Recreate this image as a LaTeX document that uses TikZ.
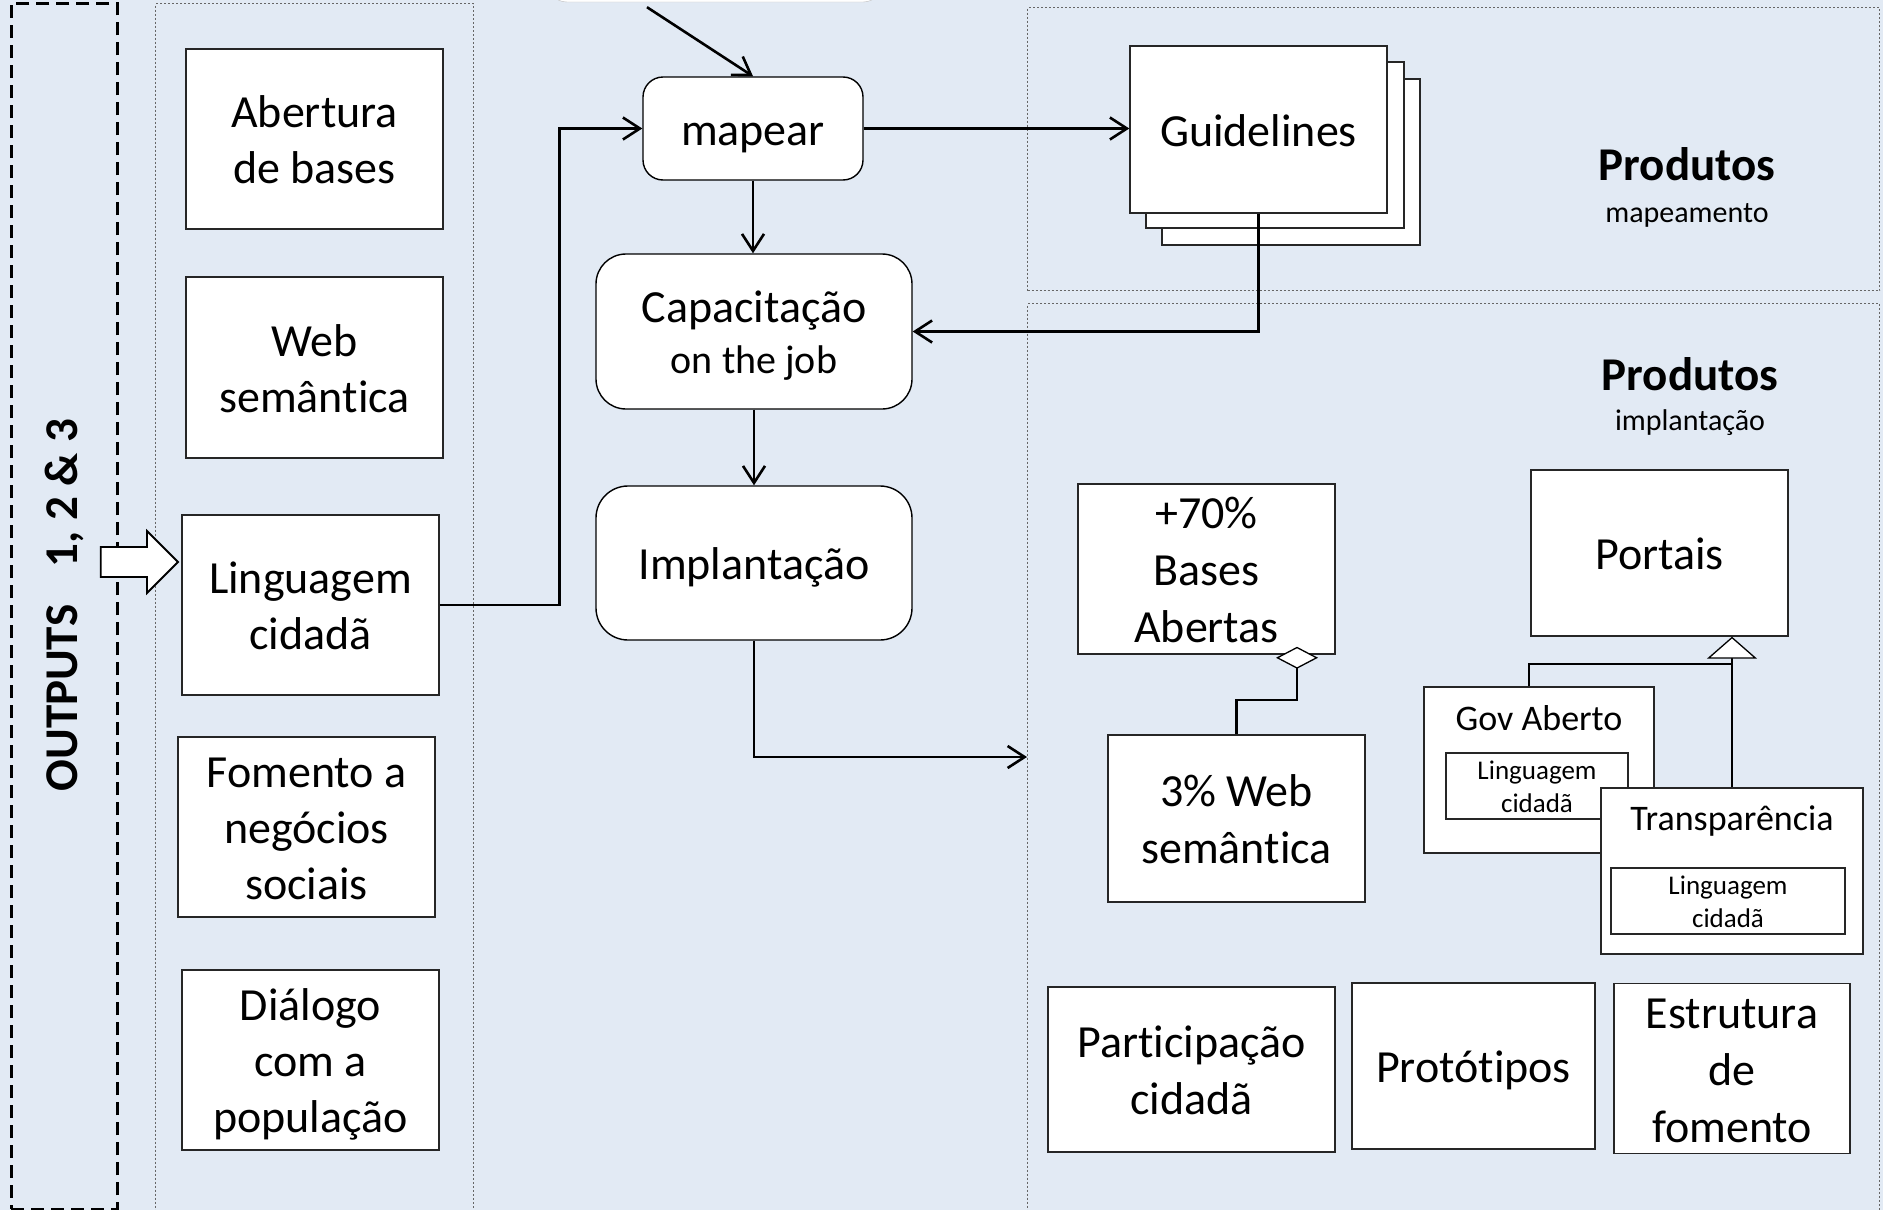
\documentclass[tikz,border=0pt]{standalone}
\usepackage{fontspec}
\setmainfont{Carlito}[Ligatures=NoCommon]
\usetikzlibrary{arrows.meta,shapes.geometric}
\definecolor{bgblue}{RGB}{226,234,244}
\newcommand\fsz[2]{\fontsize{#1}{#2}\selectfont}
\newcommand\pstrut{\rule[-0.25em]{0pt}{1.22em}}
\begin{document}
\begin{tikzpicture}[x=1pt,y=-1pt,
  box/.style={draw=black!85, line width=1.4pt, fill=white, align=center, inner sep=0pt, font=\fsz{46}{56},
              execute at end node=\pstrut},
  rbox/.style={box, draw=black, rounded corners=#1},
  panel/.style={draw=black!60, line width=1.1pt, dash pattern=on 2pt off 2pt, inner sep=0pt, anchor=north west},
  arr/.style={draw=black, line width=2.6pt, -{Straight Barb[length=17pt,width=22pt]}},
  link/.style={draw=black, line width=2.4pt},
  small/.style={box, font=\fsz{27}{33}},
]
\useasboundingbox (0,0) rectangle (1883,1210);
\clip (0,0) rectangle (1883,1210);
\fill[bgblue] (0,0) rectangle (1883,1210);

% panels
\node[draw=black, line width=2.8pt, dash pattern=on 13pt off 7pt, inner sep=0pt, anchor=north west,
      minimum width=106, minimum height=1206] (outbox) at (10,2) {};
\node[panel, minimum width=318, minimum height=1230] (lp) at (155,3) {};
\node[panel, minimum width=852, minimum height=283] (rp1) at (1027,7) {};
\node[panel, minimum width=852, minimum height=930] (rp2) at (1027,303) {};

\node[rotate=90, font=\bfseries\fsz{47}{56}] (outlbl) at (64,605) {OUTPUTS\hspace{0.8em}1, 2 \& 3};

% top source box (cut off)
\node[draw=black!25, fill=white, rounded corners=20pt, minimum width=336, minimum height=82, inner sep=0pt] (src) at (715,-39) {};

% left boxes
\node[box, minimum width=257, minimum height=180] (abert) at (314.5,139) {\pstrut Abertura\\de bases};
\node[box, minimum width=257, minimum height=181] (web) at (314.5,367.5) {\pstrut Web\\semântica};
\node[box, minimum width=257, minimum height=180] (ling) at (310.5,605) {\pstrut Linguagem\\cidadã};
\node[box, minimum width=257, minimum height=180] (fom) at (306.5,827) {\pstrut Fomento a\\negócios\\sociais};
\node[box, minimum width=257, minimum height=180] (dial) at (310.5,1060) {\pstrut Diálogo\\com a\\população};

% block arrow
\draw[fill=white, line width=1.8pt, line join=miter] (100.7,547) -- (147,547) -- (147,531) -- (178,562) -- (147,593) -- (147,577) -- (100.7,577) -- cycle;

% middle flow
\node[rbox=20pt, minimum width=220, minimum height=103] (mapear) at (753,128.5) {\pstrut mapear};
\node[rbox=30pt, minimum width=316, minimum height=155, font=\fsz{46}{51}] (capac) at (754,331.5) {\pstrut Capacitação\\{\fsz{40}{51}on the job\pstrut}};
\node[rbox=32pt, minimum width=316, minimum height=154] (impl) at (754,563) {\pstrut Implantação};

% guidelines stack
\node[box, minimum width=258, minimum height=166] (g3) at (1291,162) {};
\node[box, minimum width=258, minimum height=166] (g2) at (1275,145) {};
\node[box, minimum width=257, minimum height=167] (guide) at (1258.5,129.5) {\pstrut Guidelines};

% produtos labels
\node[anchor=base, font=\bfseries\fsz{47}{56}] (prod1) at (1687,180) {Produtos};
\node[anchor=base, font=\fsz{30}{36}] (prod1s) at (1687,222) {mapeamento};
\node[anchor=base, font=\bfseries\fsz{47}{56}] (prod2) at (1690,390) {Produtos};
\node[anchor=base, font=\fsz{30}{36}] (prod2s) at (1690,430) {implantação};

% right products
\node[box, minimum width=257, minimum height=166, font=\fsz{46}{57}] (bases) at (1206.5,569) {\pstrut +70\%\\Bases\\Abertas};
\node[box, minimum width=257, minimum height=167, font=\fsz{46}{57}] (web3) at (1236.5,818.5) {\pstrut 3\% Web\\semântica};
\node[box, minimum width=257, minimum height=166] (portais) at (1659.5,553) {\pstrut Portais};

\node[box, minimum width=230, minimum height=166] (gov) at (1539,770) {};
\node[anchor=base, font=\fsz{36}{44}] (govt) at (1539,730) {Gov Aberto};
\node[small, minimum width=182, minimum height=64] (govin) at (1537,786) {\pstrut Linguagem\\cidadã};
\node[box, minimum width=262, minimum height=166] (transp) at (1732,871) {};
\node[anchor=base, font=\fsz{36}{44}] (transpt) at (1732,830) {Transparência};
\node[small, minimum width=234, minimum height=64] (transpin) at (1728,901) {\pstrut Linguagem\\cidadã};

\node[box, minimum width=287, minimum height=165, font=\fsz{46}{57}] (partic) at (1191.5,1069.5) {\pstrut Participação\\cidadã};
\node[box, minimum width=243, minimum height=166] (proto) at (1473.5,1066) {\pstrut Protótipos};
\node[box, minimum width=236, minimum height=167, font=\fsz{46}{57}] (estrut) at (1732,1068.5) {\pstrut Estrutura\\de\\fomento};

% connectors
\draw[arr] ([xshift=-68pt,yshift=-5pt]src.south) -- (mapear.north);
\draw[arr] (ling.east) -- ++(120,0) |- (mapear.west);
\draw[arr] (mapear.east) -- (mapear.east -| guide.west);
\draw[arr] (mapear.south) -- (mapear.south |- capac.north);
\draw[arr] (capac.south) -- (impl.north);
\coordinate (pin) at (rp2.west |- 0,757);
\draw[arr] (impl.south) |- (pin);
\draw[arr] (guide.south) |- (capac.east);

% aggregation (diamond)
\coordinate (dtip) at ([xshift=90.5pt,yshift=8pt]bases.south);
\draw[link, line width=2.2pt, -{Diamond[fill=white,length=22pt,width=42pt,line width=1.3pt]}]
  (web3.north) |- (dtip |- 0,700) -- (dtip);

% generalization (triangle)
\coordinate (ttip) at (transp.north |- portais.south);
\draw[link, line width=2.2pt, -{Triangle[fill=white,length=22pt,width=50pt,line width=1.3pt]}]
  (transp.north) -- (ttip);
\draw[link, line width=2.2pt] ([xshift=-10pt]gov.north) |- (transp.north |- 0,664);
\end{tikzpicture}
\end{document}
